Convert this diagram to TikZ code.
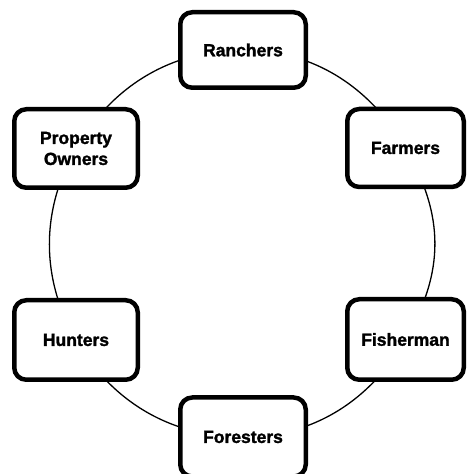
\documentclass[tikz,border=0pt]{standalone}
\usepackage{fontspec}
\setmainfont{Liberation Sans}
\newfontfamily\boxfont{Liberation Sans Bold}[FakeBold=1.6]
\usetikzlibrary{backgrounds}

\begin{document}
\begin{tikzpicture}[x=1pt, y=1pt,
  box/.style = {rectangle, draw, fill=white, line width=4.5pt, rounded corners=12pt, align=center, inner sep=0, font=\fontsize{17.5}{21}\boxfont},
  ring/.style = {line width=1.3pt, looseness=0.95}]

\useasboundingbox (0,0) rectangle (467,474);

\node[box, minimum width=125.5, minimum height=75.5](ranchers) at (243,424){Ranchers};
\node[box, minimum width=116.5, minimum height=78](farmers) at (405.5,326){Farmers};
\node[box, minimum width=116.5, minimum height=80.5](fisherman) at (405.5,134.5){Fisherman};
\node[box, minimum width=125.5, minimum height=79](foresters) at (243,37){Foresters};
\node[box, minimum width=123.5, minimum height=79.5](hunters) at (76,134){Hunters};
\node[box, minimum width=123.5, minimum height=78.5](owners) at (76,325.5){Property\\Owners};

\begin{scope}[on background layer]
\draw [ring] (ranchers.center) to[out=0, in=120] (farmers.center);
\draw [ring] (farmers.center) to[out=-60, in=60, looseness=1.05] (fisherman.center);
\draw [ring] (fisherman.center) to[out=-120, in=0] (foresters.center);
\draw [ring] (foresters.center) to[out=180, in=-60] (hunters.center);
\draw [ring] (hunters.center) to[out=120, in=-120] (owners.center);
\draw [ring] (owners.center) to[out=60, in=180] (ranchers.center);
\end{scope}

\end{tikzpicture}
\end{document}
